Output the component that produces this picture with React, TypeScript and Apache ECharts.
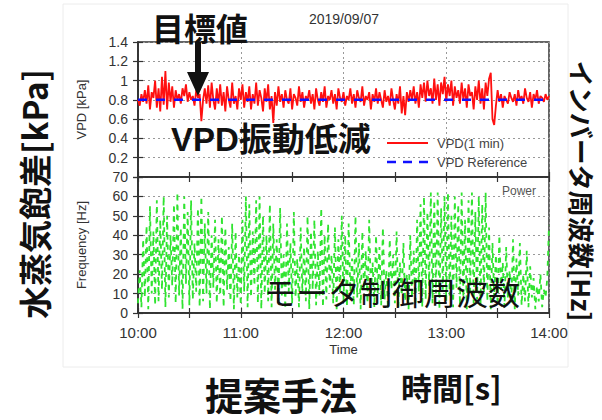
import React, { useEffect, useRef } from 'react';
import * as echarts from 'echarts';

const timeLabels = ['10:00', '11:00', '12:00', '13:00', '14:00'];

// VPD [kPa], one value per minute from 10:00 to 14:00
const vpd = [
  0.80, 0.74, 0.86, 0.78, 0.90, 0.76, 0.95, 0.70, 0.88, 0.82, 1.00, 0.72, 0.92, 0.68, 1.04, 0.75, 1.10, 0.70, 0.98, 0.78,
  0.94, 0.72, 0.90, 0.80, 0.86, 0.76, 0.92, 0.84, 0.96, 0.78, 0.88, 0.80, 0.84, 0.74, 0.90, 0.82, 0.86, 0.58, 0.80, 0.92,
  0.76, 0.95, 0.72, 0.98, 0.80, 0.70, 0.92, 0.76, 0.96, 0.74, 0.88, 0.68, 0.94, 0.80, 0.72, 0.98, 0.76, 0.84, 0.70, 0.92,
  0.80, 0.96, 0.72, 0.88, 0.78, 0.94, 0.70, 0.86, 0.76, 0.98, 0.74, 0.90, 0.82, 0.68, 0.92, 0.78, 0.96, 0.70, 0.84, 0.56,
  0.88, 0.74, 0.94, 0.78, 0.86, 0.72, 0.90, 0.80, 0.76, 0.92, 0.70, 0.86, 0.82, 0.74, 0.94, 0.78, 0.88, 0.72, 0.84, 0.80,
  0.90, 0.76, 0.86, 0.70, 0.92, 0.80, 0.74, 0.88, 0.78, 0.94, 0.72, 0.84, 0.80, 0.90, 0.76, 0.86, 0.70, 0.92, 0.82, 0.78,
  0.88, 0.74, 0.84, 0.80, 0.92, 0.76, 0.86, 0.72, 0.90, 0.82, 0.78, 0.94, 0.74, 0.84, 0.80, 0.88, 0.70, 0.86, 0.78, 0.92,
  0.76, 0.88, 0.80, 0.72, 0.90, 0.78, 0.84, 0.74, 0.92, 0.80, 0.70, 0.86, 0.76, 0.94, 0.66, 0.84, 0.64, 0.88, 0.78, 0.90,
  0.80, 0.94, 0.76, 0.88, 0.72, 0.96, 0.82, 0.98, 0.78, 1.00, 0.84, 0.92, 0.76, 1.02, 0.80, 0.96, 0.74, 0.98, 0.86, 1.04,
  0.78, 0.96, 0.84, 1.00, 0.74, 0.94, 0.82, 0.90, 0.76, 0.98, 0.80, 0.92, 0.72, 0.96, 0.84, 0.88, 0.70, 0.94, 0.80, 1.00,
  0.76, 0.92, 0.70, 0.98, 0.84, 1.02, 1.08, 0.60, 0.54, 0.74, 0.90, 0.78, 0.86, 0.72, 0.84, 0.80, 0.76, 0.88, 0.82, 0.78,
  0.86, 0.74, 0.90, 0.80, 0.84, 0.76, 0.92, 0.82, 0.78, 0.88, 0.72, 0.86, 0.80, 0.90, 0.76, 0.84, 0.82, 0.78, 0.86, 0.80,
  0.84,
];

// VPD reference at start and end of the period
const vpdReference = [0.8, 0.8];

// Inverter (motor control) frequency [Hz], one value per minute
const frequency = [
  5, 22, 3, 38, 8, 45, 2, 55, 10, 42, 4, 58, 6, 48, 12, 60, 3, 50, 8, 40,
  14, 56, 5, 62, 9, 44, 2, 60, 15, 52, 4, 58, 7, 36, 11, 54, 3, 60, 6, 46,
  10, 52, 2, 40, 13, 48, 5, 38, 9, 50, 3, 44, 12, 34, 6, 46, 2, 42, 8, 30,
  4, 48, 11, 60, 3, 56, 8, 42, 14, 58, 5, 60, 2, 50, 10, 40, 6, 56, 3, 46,
  12, 38, 4, 54, 9, 30, 2, 46, 11, 36, 5, 52, 8, 28, 3, 44, 10, 34, 6, 50,
  2, 42, 12, 48, 4, 32, 9, 54, 3, 40, 7, 46, 13, 30, 5, 44, 2, 38, 10, 50,
  6, 40, 3, 46, 11, 28, 4, 50, 8, 36, 2, 42, 12, 32, 5, 48, 9, 26, 3, 40,
  10, 34, 4, 44, 7, 22, 2, 38, 12, 30, 5, 42, 3, 26, 9, 36, 6, 20, 2, 40,
  8, 32, 4, 48, 11, 56, 3, 60, 7, 52, 14, 62, 5, 58, 10, 62, 2, 54, 12, 60,
  6, 62, 9, 50, 3, 60, 13, 56, 4, 62, 8, 48, 2, 58, 11, 62, 5, 52, 7, 60,
  3, 56, 10, 62, 6, 44, 2, 36, 8, 30, 4, 40, 12, 26, 3, 34, 7, 22, 5, 38,
  2, 28, 9, 36, 4, 20, 6, 32, 3, 24, 8, 18, 2, 14, 6, 20, 3, 12, 8, 18,
  45,
];

const LAT = '"Liberation Sans", Arial, sans-serif';
const CJK = '"Noto Sans CJK JP", sans-serif';
const MIX = '"Liberation Sans", "Noto Sans CJK JP", sans-serif';

export default function App() {
  const ref = useRef<HTMLDivElement>(null);

  useEffect(() => {
    const chart = echarts.init(ref.current!, null, { renderer: 'svg' });
    const axisLineStyle = { color: '#333', width: 1.5 };
    const tickStyle = { show: true, inside: true, length: 5, lineStyle: { color: '#333', width: 1.2 } };
    const maxMin = 240;

    const mirrorX = (gridIndex: number, position: string) => ({
      type: 'value', gridIndex, position, min: 0, max: maxMin, interval: 60,
      axisLine: { show: true, lineStyle: axisLineStyle },
      axisTick: tickStyle,
      minorTick: { show: true, splitNumber: 2, length: 5, lineStyle: { color: '#333', width: 1.2 } },
      axisLabel: { show: false },
      splitLine: { show: false },
    });

    const option: any = {
      animation: false,
      backgroundColor: '#fff',
      grid: [
        { left: 138, top: 42, width: 411, height: 135, show: true, borderColor: '#333', borderWidth: 1.5, backgroundColor: 'transparent' },
        { left: 138, top: 177, width: 411, height: 136, show: true, borderColor: '#333', borderWidth: 1.5, backgroundColor: 'transparent' },
      ],
      xAxis: [
        {
          type: 'value', gridIndex: 0, min: 0, max: maxMin, interval: 60,
          axisLine: { show: true, lineStyle: axisLineStyle },
          axisTick: tickStyle,
          minorTick: { show: true, splitNumber: 2, length: 5, lineStyle: { color: '#333', width: 1.2 } },
          axisLabel: { show: false },
          splitLine: { show: true, lineStyle: { color: '#999', type: [2, 3], width: 1 } },
        },
        {
          type: 'value', gridIndex: 1, min: 0, max: maxMin, interval: 60,
          axisLine: { show: true, lineStyle: axisLineStyle },
          axisTick: tickStyle,
          minorTick: { show: true, splitNumber: 2, length: 5, lineStyle: { color: '#333', width: 1.2 } },
          axisLabel: {
            show: true, fontSize: 15, color: '#333', fontFamily: LAT, margin: 12,
            formatter: (v: number) => timeLabels[Math.round(v / 60)] ?? '',
          },
          splitLine: { show: true, lineStyle: { color: '#999', type: [2, 3], width: 1 } },
          name: 'Time', nameLocation: 'middle', nameGap: 30,
          nameTextStyle: { fontSize: 13, color: '#333', fontFamily: LAT },
        },
        mirrorX(0, 'top'),
        mirrorX(1, 'top'),
      ],
      yAxis: [
        {
          type: 'value', gridIndex: 0, min: 0, max: 1.4, interval: 0.2,
          axisLine: { show: true, lineStyle: axisLineStyle },
          axisTick: tickStyle,
          axisLabel: {
            fontSize: 14, color: '#333', fontFamily: LAT, margin: 10,
            formatter: (v: number) => (Math.abs(v) < 1e-9 ? '' : String(Math.round(v * 10) / 10)),
          },
          splitLine: { show: true, lineStyle: { color: '#999', type: [2, 3], width: 1 } },
          name: 'VPD [kPa]', nameLocation: 'middle', nameGap: 50,
          nameTextStyle: { fontSize: 13, color: '#333', fontFamily: LAT },
        },
        {
          type: 'value', gridIndex: 0, position: 'right', min: 0, max: 1.4, interval: 0.2,
          axisLine: { show: true, lineStyle: axisLineStyle },
          axisTick: tickStyle, axisLabel: { show: false }, splitLine: { show: false },
        },
        {
          type: 'value', gridIndex: 1, min: 0, max: 70, interval: 10,
          axisLine: { show: true, lineStyle: axisLineStyle },
          axisTick: tickStyle,
          axisLabel: { fontSize: 14, color: '#333', fontFamily: LAT, margin: 10 },
          splitLine: { show: true, lineStyle: { color: '#999', type: [2, 3], width: 1 } },
          name: 'Frequency [Hz]', nameLocation: 'middle', nameGap: 50,
          nameTextStyle: { fontSize: 13, color: '#333', fontFamily: LAT },
        },
        {
          type: 'value', gridIndex: 1, position: 'right', min: 0, max: 70, interval: 10,
          axisLine: { show: true, lineStyle: axisLineStyle },
          axisTick: tickStyle, axisLabel: { show: false }, splitLine: { show: false },
        },
      ],
      series: [
        {
          name: 'VPD(1 min)', type: 'line', xAxisIndex: 0, yAxisIndex: 0,
          data: vpd.map((v, i) => [i, v]), symbol: 'none',
          lineStyle: { color: '#ff1010', width: 1.8 }, itemStyle: { color: '#ff1010' }, z: 3,
        },
        {
          name: 'VPD Reference', type: 'line', xAxisIndex: 0, yAxisIndex: 0,
          data: vpdReference.map((v, i) => [i * maxMin, v]), symbol: 'none',
          lineStyle: { color: '#1010ff', width: 2.5, type: [9, 9] }, itemStyle: { color: '#1010ff' }, z: 4,
        },
        {
          name: 'Frequency', type: 'line', xAxisIndex: 1, yAxisIndex: 2,
          data: frequency.map((v, i) => [i, v]), symbol: 'none',
          lineStyle: { color: '#30e430', width: 1.8, type: [5, 5] }, itemStyle: { color: '#30e430' }, z: 3,
        },
      ],
      graphic: [
        { type: 'rect', shape: { x: 63, y: 4, width: 505, height: 363 }, style: { fill: 'none', stroke: '#ececec', lineWidth: 1 }, z: 0, silent: true },
        { type: 'text', x: 344, y: 19, z: 100, style: { text: '2019/09/07', fontSize: 14, fill: '#333', fontFamily: LAT, textAlign: 'center', textVerticalAlign: 'middle' } },
        // legend
        { type: 'line', z: 100, shape: { x1: 387, y1: 143, x2: 428, y2: 143 }, style: { stroke: '#ff1010', lineWidth: 2 } },
        { type: 'line', z: 100, shape: { x1: 387, y1: 162, x2: 428, y2: 162 }, style: { stroke: '#1010ff', lineWidth: 2.5, lineDash: [9, 7] } },
        { type: 'text', x: 437, y: 143, z: 100, style: { text: 'VPD(1 min)', fontSize: 13, fill: '#444', fontFamily: LAT, textAlign: 'left', textVerticalAlign: 'middle' } },
        { type: 'text', x: 437, y: 162, z: 100, style: { text: 'VPD Reference', fontSize: 13, fill: '#444', fontFamily: LAT, textAlign: 'left', textVerticalAlign: 'middle' } },
        { type: 'text', x: 502, y: 191, z: 100, style: { text: 'Power', fontSize: 12, fill: '#555', fontFamily: LAT, textAlign: 'left', textVerticalAlign: 'middle' } },
        // annotations
        { type: 'text', x: 152, y: 27, z: 100, style: { text: '目標値', fontSize: 32, fontWeight: 'bold', fill: '#111', fontFamily: CJK, textAlign: 'left', textVerticalAlign: 'middle' } },
        { type: 'polygon', z: 100, shape: { points: [[195, 42], [201, 42], [201, 72], [209, 72], [198, 96], [187, 72], [195, 72]] }, style: { fill: '#111' } },
        { type: 'text', x: 171, y: 139, z: 100, style: { text: 'VPD振動低減', fontSize: 33, fontWeight: 'bold', fill: '#111', fontFamily: MIX, textAlign: 'left', textVerticalAlign: 'middle' } },
        { type: 'text', x: 392, y: 291, z: 100, style: { text: 'モータ制御周波数', fontSize: 32, fill: '#111', fontFamily: CJK, textAlign: 'center', textVerticalAlign: 'middle' } },
        { type: 'text', x: 34, y: 194, rotation: Math.PI / 2, z: 100, style: { text: '水蒸気飽差[kPa]', fontSize: 33, fontWeight: 'bold', fill: '#111', fontFamily: CJK, textAlign: 'center', textVerticalAlign: 'middle' } },
        { type: 'text', x: 582, y: 191, rotation: -Math.PI / 2, z: 100, style: { text: 'インバータ周波数[Hz]', fontSize: 26, fontWeight: 'bold', fill: '#111', fontFamily: CJK, textAlign: 'center', textVerticalAlign: 'middle' } },
        { type: 'text', x: 281, y: 393, z: 100, style: { text: '提案手法', fontSize: 38, fontWeight: 'bold', fill: '#111', fontFamily: CJK, textAlign: 'center', textVerticalAlign: 'middle' } },
        { type: 'text', x: 401, y: 386, z: 100, style: { text: '時間[s]', fontSize: 31, fontWeight: 'bold', fill: '#111', fontFamily: CJK, textAlign: 'left', textVerticalAlign: 'middle' } },
      ],
    };

    chart.setOption(option);
    return () => chart.dispose();
  }, []);

  return (
    <div
      ref={ref}
      style={{ position: 'fixed', left: 0, top: 0, width: 602, height: 420, background: '#fff' }}
    />
  );
}
